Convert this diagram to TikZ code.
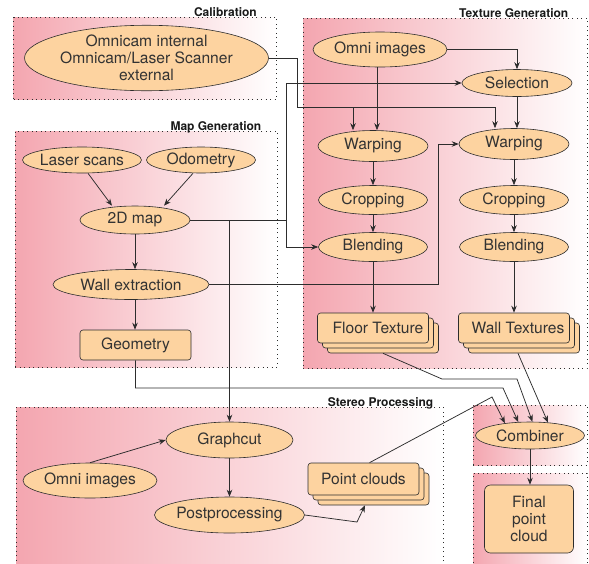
\documentclass[tikz,border=0pt]{standalone}
\usepackage{fontspec}
\setmainfont{TeX Gyre Heros}
\usetikzlibrary{shapes.geometric,shadows,arrows.meta}

\definecolor{regionpink}{RGB}{244,166,176}
\definecolor{stepfill}{RGB}{253,211,160}
\definecolor{edgegray}{RGB}{45,45,45}

\begin{document}
\begin{tikzpicture}[x=1pt,y=-1pt,
	region/.style={ draw=edgegray, line width=0.9pt, dash pattern=on 0.9pt off 3.6pt, left color=regionpink, right color=white, inner sep=0pt },
	regiontitle/.style={ font=\bfseries\fontsize{12}{12}\selectfont, text=black!90, inner sep=0pt, anchor=base east },
	proc/.style={ ellipse, draw=edgegray, fill=stepfill, line width=0.6pt, inner sep=0pt, text=black!80, align=center, font=\fontsize{15.6}{17.2}\selectfont },
	datum/.style={ rectangle, rounded corners=3pt, draw=edgegray, fill=stepfill, line width=0.6pt, inner sep=0pt, text=black!80, align=center, font=\fontsize{15.6}{17.2}\selectfont },
	stack/.style={ datum,
		general shadow={ shadow xshift=10pt, shadow yshift=-10pt, draw=edgegray, fill=stepfill, line width=0.6pt },
		general shadow={ shadow xshift=5pt, shadow yshift=-5pt, draw=edgegray, fill=stepfill, line width=0.6pt } },
	link/.style={ draw=edgegray, line width=0.75pt, -{Stealth[length=7pt,width=5.5pt]} },
	wire/.style={ draw=edgegray, line width=0.75pt }
]
\useasboundingbox (0,0) rectangle (589,563);
\clip (0,0) rectangle (589,563);

% regions
\node at (145,58) (calibbox) [region, minimum width=263pt, minimum height=82pt] {};
\node at (146,249) (mapbox) [region, minimum width=262pt, minimum height=236pt] {};
\node at (445,193) (texbox) [region, minimum width=284pt, minimum height=350pt] {};
\node at (229.5,491) (stereobox) [region, minimum width=427pt, minimum height=168pt] {};
\node at (530,435) (combbox) [region, minimum width=114pt, minimum height=60pt] {};
\node at (530,524) (finalbox) [region, minimum width=114pt, minimum height=102pt] {};

\node at ([xshift=-20pt]calibbox.north east) (calibtitle) [regiontitle] {Calibration};
\node at ([xshift=-16pt]mapbox.north east) (maptitle) [regiontitle] {Map Generation};
\node at ([xshift=-19pt]texbox.north east) (textitle) [regiontitle] {Texture Generation};
\node at ([xshift=-10pt]stereobox.north east) (stereotitle) [regiontitle] {Stereo Processing};

% calibration
\node at (146.5,58) (calib) [proc, minimum width=235pt, minimum height=62pt] {Omnicam internal\\Omnicam/Laser Scanner\\external};

% map generation
\node at (82,160) (laser) [proc, minimum width=110pt, minimum height=26pt] {Laser scans};
\node at (201,160) (odom) [proc, minimum width=109pt, minimum height=26pt] {Odometry};
\node at (135,220) (map2d) [proc, minimum width=110pt, minimum height=28pt] {2D map};
\node at (131,284.5) (wall) [proc, minimum width=156pt, minimum height=30pt] {Wall extraction};
\node at (135.5,345) (geom) [datum, minimum width=111pt, minimum height=30pt] {Geometry};

% texture generation
\node at (380,49.5) (omniT) [proc, minimum width=134pt, minimum height=35pt] {Omni images};
\node at (517,83) (selection) [proc, minimum width=110pt, minimum height=27pt] {Selection};
\node at (373,146) (warpL) [proc, minimum width=110pt, minimum height=31pt] {Warping};
\node at (514,144) (warpR) [proc, minimum width=110pt, minimum height=31pt] {Warping};
\node at (373,200) (cropL) [proc, minimum width=109pt, minimum height=29pt] {Cropping};
\node at (514,200) (cropR) [proc, minimum width=109pt, minimum height=29pt] {Cropping};
\node at (373,247) (blendL) [proc, minimum width=109pt, minimum height=29pt] {Blending};
\node at (514,247) (blendR) [proc, minimum width=109pt, minimum height=29pt] {Blending};
\node at (373,328) (floor) [stack, minimum width=111pt, minimum height=30pt] {\hspace{10pt}Floor Texture};
\node at (514,328) (walltex) [stack, minimum width=111pt, minimum height=30pt] {\hspace{8pt}Wall Textures};

% stereo processing
\node at (229.5,440) (graph) [proc, minimum width=127pt, minimum height=36pt] {Graphcut};
\node at (90,480.5) (omniS) [proc, minimum width=134pt, minimum height=35pt] {Omni images};
\node at (229.5,515) (post) [proc, minimum width=127pt, minimum height=36pt] {Postprocessing};
\node at (363.5,479) (points) [stack, minimum width=111pt, minimum height=32pt] {Point clouds};

% combining
\node at (530,435.5) (combiner) [proc, minimum width=109pt, minimum height=27pt] {Combiner};
\node at (529,519) (final) [datum, rounded corners=6pt, minimum width=89pt, minimum height=68pt] {Final\\point\\cloud};

\coordinate (calibbus) at (297,107);
\coordinate (mapbus) at (286,220);
\coordinate (wallturn) at (438,284.5);
\coordinate (geombend) at (503,388);
\coordinate (floorbend) at (442,379);
\coordinate (floorbendb) at (517,379);
\coordinate (pointsbend) at (492,397);
\coordinate (postbend) at (357,522);

% map generation links
\draw[link] ([xshift=6pt]laser.south) to ([xshift=-23pt]map2d.north);
\draw[link] ([xshift=-8pt]odom.south) to ([xshift=29pt]map2d.north);
\draw[link] (map2d.south) to (map2d.south |- wall.north);
\draw[link] (map2d.south |- wall.south) to (geom.north -| map2d.south);

% calibration and map feed the texture side
\draw[wire] (calib.east) -| (calibbus);
\draw[link] (calibbus) -| ([xshift=-20pt]warpL.north);
\draw[link] (calibbus) -| ([xshift=-19pt]warpR.north);
\draw[wire] (map2d.east) to (mapbus);
\draw[link] (mapbus) |- (selection.west);
\draw[link] (mapbus) |- (blendL.west);
\draw[link] (map2d.east -| graph.north) to (graph.north);
\draw[link] (wall.east) to (wallturn) |- (warpR.west);

% texture generation
\draw[link] ([xshift=-3pt]omniT.south) to ([xshift=-3pt]omniT.south |- warpL.north);
\draw[link] (omniT.east) -| (selection.north);
\draw[link] (selection.south) to (selection.south |- warpR.north);
\draw[link] (warpL) to (cropL);
\draw[link] (cropL) to (blendL);
\draw[link] (blendL) to (floor);
\draw[link] (warpR) to (cropR);
\draw[link] (cropR) to (blendR);
\draw[link] (blendR) to (walltex);

% stereo processing
\draw[link] (omniS.north) to (graph.west);
\draw[link] (graph) to (post);
\draw[link] (post.east) to (postbend) to ([shift={(1.5pt,-10pt)}]points.south);

% into the combiner
\draw[link] ([xshift=6pt]points.north) to (pointsbend) to (combiner.154);
\draw[link] (geom.south) |- (geombend) to (combiner.131);
\draw[link] ([shift={(10pt,-10pt)}]floor.south) to (floorbend) to (floorbendb) to (combiner.80);
\draw[link] ([shift={(4pt,-10pt)}]walltex.south) to (combiner.36);
\draw[link] (combiner.south) to (combiner.south |- final.north);

\end{tikzpicture}
\end{document}
